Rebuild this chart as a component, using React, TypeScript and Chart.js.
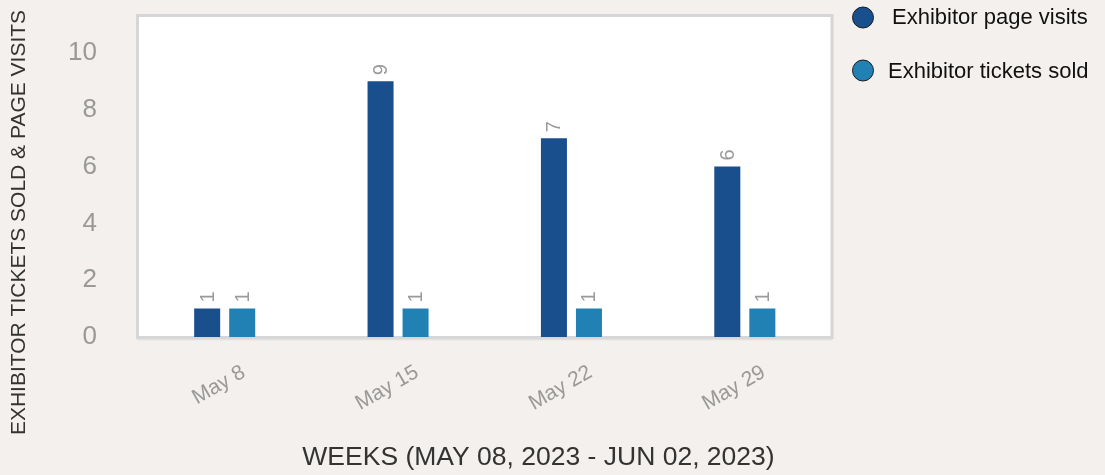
import React, { useEffect, useRef } from 'react';
import { Chart, registerables } from 'chart.js';

Chart.register(...registerables);

const categories = ['May 8', 'May 15', 'May 22', 'May 29'];
const pageVisits = [1, 9, 7, 6];
const ticketsSold = [1, 1, 1, 1];
const yTickValues = [0, 2, 4, 6, 8, 10];
const seriesNames = ['Exhibitor page visits', 'Exhibitor tickets sold'];
const seriesColors = ['#184f8c', '#2181b4'];
const yTitle = 'EXHIBITOR TICKETS SOLD & PAGE VISITS';
const xTitle = 'WEEKS (MAY 08, 2023 - JUN 02, 2023)';

const FONT = '"Liberation Sans", Arial, Helvetica, sans-serif';

const decorPlugin = {
  id: 'decor',
  beforeDatasetsDraw(chart: any) {
    const { ctx, chartArea: a } = chart;
    ctx.save();
    ctx.fillStyle = '#ffffff';
    ctx.fillRect(a.left, a.top, a.right - a.left, a.bottom - a.top);
    ctx.strokeStyle = '#d6d6d6';
    ctx.lineWidth = 3;
    ctx.strokeRect(a.left - 0.5, a.top - 0.5, a.right - a.left + 1, a.bottom - a.top + 1);
    ctx.strokeStyle = '#e0e0e0';
    ctx.lineWidth = 1.5;
    ctx.beginPath();
    ctx.moveTo(a.left - 1, a.bottom + 2.5);
    ctx.lineTo(a.right + 1, a.bottom + 2.5);
    ctx.stroke();
    ctx.restore();
  },
  afterDatasetsDraw(chart: any) {
    const { ctx } = chart;
    ctx.save();
    ctx.fillStyle = '#9a9a9a';
    ctx.font = `20px ${FONT}`;
    ctx.textAlign = 'left';
    ctx.textBaseline = 'middle';
    chart.data.datasets.forEach((ds: any, i: number) => {
      const meta = chart.getDatasetMeta(i);
      meta.data.forEach((bar: any, j: number) => {
        ctx.save();
        ctx.translate(bar.x, bar.y - 6);
        ctx.rotate(-Math.PI / 2);
        ctx.fillText(String(ds.data[j]), 0, 1);
        ctx.restore();
      });
    });
    ctx.restore();
  },
  afterDraw(chart: any) {
    const { ctx } = chart;
    ctx.save();
    ctx.fillStyle = '#333333';
    ctx.font = `21px ${FONT}`;
    ctx.textAlign = 'center';
    ctx.textBaseline = 'middle';
    ctx.save();
    ctx.translate(19, 222.5);
    ctx.rotate(-Math.PI / 2);
    ctx.fillText(yTitle, 0, 0);
    ctx.restore();
    ctx.font = `26.5px ${FONT}`;
    ctx.fillText(xTitle, 538.5, 458);
    const items = [
      { cy: 17.5, tx: 892, ty: 18 },
      { cy: 70.5, tx: 888, ty: 72 },
    ];
    items.forEach((it, i) => {
      ctx.beginPath();
      ctx.arc(863, it.cy, 10.5, 0, Math.PI * 2);
      ctx.fillStyle = seriesColors[i];
      ctx.fill();
      ctx.lineWidth = 1;
      ctx.strokeStyle = '#1a1a1a';
      ctx.stroke();
      ctx.fillStyle = '#111111';
      ctx.font = `22px ${FONT}`;
      ctx.textAlign = 'left';
      ctx.textBaseline = 'middle';
      ctx.fillText(seriesNames[i], it.tx, it.ty);
    });
    ctx.restore();
  },
};

export default function App() {
  const ref = useRef<HTMLCanvasElement | null>(null);
  useEffect(() => {
    if (!ref.current) return;
    const chart = new Chart(ref.current, {
      type: 'bar',
      data: {
        labels: categories,
        datasets: [
          {
            label: seriesNames[0],
            data: pageVisits,
            backgroundColor: seriesColors[0],
            categoryPercentage: 0.404,
            barPercentage: 0.743,
          },
          {
            label: seriesNames[1],
            data: ticketsSold,
            backgroundColor: seriesColors[1],
            categoryPercentage: 0.404,
            barPercentage: 0.743,
          },
        ],
      },
      options: {
        animation: false,
        responsive: true,
        maintainAspectRatio: false,
        layout: { padding: { top: 16, right: 273.5, bottom: 0, left: 0 } },
        plugins: {
          legend: { display: false },
          tooltip: { enabled: false },
        },
        scales: {
          x: {
            grid: { display: false, drawTicks: false },
            border: { display: false },
            ticks: {
              color: '#999999',
              font: { size: 21, family: FONT },
              minRotation: 30,
              maxRotation: 30,
              padding: 23,
              labelOffset: 19,
            },
            afterFit: (s: any) => {
              s.height = 138;
              s.paddingLeft = 0;
              s.paddingRight = 0;
            },
          },
          y: {
            min: 0,
            max: 11.3,
            grid: { display: false, drawTicks: false },
            border: { display: false },
            ticks: {
              color: '#999999',
              font: { size: 26, family: FONT },
              padding: 41,
              stepSize: 2,
            },
            afterBuildTicks: (s: any) => {
              s.ticks = yTickValues.map((v) => ({ value: v }));
            },
            afterFit: (s: any) => {
              s.width = 138;
              s.paddingTop = 0;
              s.paddingBottom = 0;
            },
          },
        },
      },
      plugins: [decorPlugin],
    });
    return () => chart.destroy();
  }, []);
  return (
    <div
      style={{
        position: 'fixed',
        left: 0,
        top: 0,
        width: 1105,
        height: 475,
        background: '#f3f0ed',
      }}
    >
      <canvas ref={ref} />
    </div>
  );
}
